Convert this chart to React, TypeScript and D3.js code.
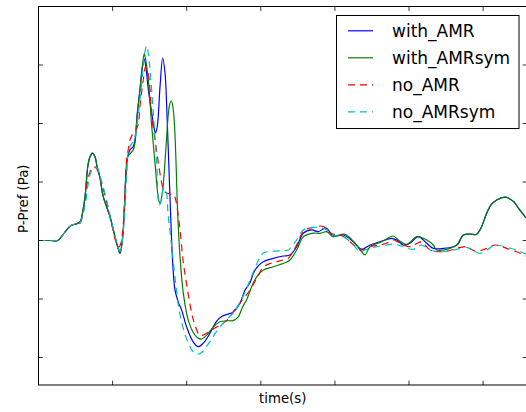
import React from 'react';
import * as d3 from 'd3';

// time axis (arbitrary units, tick spacing 1) and P-Pref values (tick spacing 1)
const xTicks = [0, 1, 2, 3, 4, 5, 6];
const yTicks = [-2, -1, 0, 1, 2, 3, 4];

const tBlue = [0,0.155,0.259,0.317,0.381,0.439,0.506,0.560,0.601,0.628,0.668,0.695,0.726,0.762,0.789,0.830,0.874,0.965,1.032,1.073,1.100,1.136,1.158,1.181,1.204,1.235,1.279,1.302,1.333,1.369,1.401,1.428,1.450,1.482,1.528,1.559,1.579,1.603,1.640,1.676,1.707,1.738,1.761,1.784,1.811,1.842,1.887,1.932,2.000,2.089,2.156,2.224,2.314,2.405,2.476,2.557,2.625,2.719,2.787,2.854,2.899,2.962,3.034,3.169,3.304,3.394,3.484,3.573,3.687,3.776,3.853,3.889,3.978,4.113,4.248,4.361,4.474,4.608,4.766,4.834,4.923,5.013,5.125,5.239,5.328,5.463,5.598,5.661,5.733,5.823,5.913,5.971,6.048,6.106,6.183,6.295,6.349,6.417,6.484,6.579];
const pBlue = [0,0,0,0.077,0.180,0.257,0.283,0.317,0.522,0.745,1.293,1.430,1.493,1.430,1.276,1.070,0.750,0.408,0.065,-0.128,-0.219,0.065,0.522,1.156,1.435,1.550,1.606,1.721,2.178,2.577,2.954,3.099,2.954,2.577,2.183,1.926,1.841,1.949,2.634,3.120,2.868,2.012,1.207,0.402,-0.385,-0.848,-1.053,-1.190,-1.481,-1.738,-1.815,-1.755,-1.584,-1.378,-1.293,-1.259,-1.224,-1.070,-0.848,-0.723,-0.562,-0.437,-0.363,-0.305,-0.265,-0.248,-0.106,0.123,0.180,0.151,0.205,0.209,0.086,0.094,-0.021,-0.151,-0.077,-0.021,0.038,0.009,-0.077,-0.048,0.065,-0.048,-0.134,-0.134,-0.106,-0.060,0.094,0.111,0.106,0.214,0.466,0.608,0.693,0.740,0.719,0.659,0.539,0.385];

const tGreen = [0,0.155,0.259,0.317,0.381,0.439,0.506,0.560,0.601,0.628,0.668,0.695,0.726,0.762,0.789,0.830,0.874,0.965,1.032,1.073,1.100,1.136,1.158,1.181,1.204,1.235,1.279,1.302,1.333,1.369,1.401,1.428,1.450,1.482,1.528,1.572,1.617,1.640,1.676,1.721,1.765,1.792,1.815,1.835,1.856,1.878,1.910,1.954,2.021,2.112,2.189,2.270,2.359,2.449,2.540,2.625,2.692,2.760,2.810,2.899,2.962,3.034,3.169,3.259,3.327,3.394,3.484,3.573,3.687,3.799,3.889,3.978,4.136,4.271,4.361,4.406,4.474,4.632,4.788,4.856,4.969,5.104,5.239,5.328,5.374,5.463,5.553,5.644,5.733,5.823,5.913,5.971,6.048,6.106,6.183,6.295,6.349,6.417,6.484,6.579];
const pGreen = [0,0,0,0.077,0.180,0.257,0.283,0.317,0.522,0.745,1.293,1.430,1.493,1.430,1.276,1.070,0.750,0.408,0.065,-0.128,-0.219,0.065,0.522,1.156,1.435,1.481,1.550,1.669,2.149,2.577,2.976,3.194,3.057,2.748,1.949,1.327,0.728,0.634,0.865,1.606,2.291,2.389,2.269,1.978,1.327,0.471,-0.283,-0.899,-1.361,-1.618,-1.687,-1.618,-1.476,-1.390,-1.370,-1.370,-1.310,-1.122,-1.007,-0.723,-0.591,-0.505,-0.449,-0.411,-0.380,-0.334,-0.163,0.065,0.123,0.123,0.151,0.065,0.106,-0.048,-0.192,-0.248,-0.106,-0.021,0.077,0.009,-0.065,0.065,0.009,-0.077,-0.163,-0.163,-0.134,-0.077,0.094,0.111,0.106,0.214,0.466,0.608,0.693,0.740,0.719,0.659,0.539,0.385];

const tRed = [0,0.155,0.259,0.317,0.381,0.439,0.506,0.560,0.601,0.628,0.655,0.695,0.740,0.776,0.830,0.884,0.938,0.992,1.046,1.086,1.113,1.140,1.167,1.190,1.215,1.235,1.279,1.316,1.347,1.369,1.414,1.447,1.482,1.505,1.528,1.572,1.617,1.662,1.693,1.730,1.774,1.819,1.842,1.865,1.910,1.950,1.990,2.067,2.112,2.180,2.247,2.355,2.449,2.530,2.625,2.719,2.854,2.908,2.962,3.034,3.124,3.215,3.300,3.371,3.421,3.484,3.536,3.596,3.664,3.731,3.799,3.843,3.893,3.934,4.001,4.069,4.136,4.203,4.271,4.338,4.406,4.474,4.608,4.703,4.788,4.851,4.923,5.036,5.094,5.171,5.229,5.283,5.364,5.463,5.553,5.644,5.779,5.837,5.913,5.985,6.048,6.160,6.228,6.318,6.453,6.579];
const pRed = [0,0,0,0.077,0.180,0.257,0.283,0.300,0.471,0.642,0.950,1.173,1.259,1.241,1.070,0.830,0.557,0.248,-0.026,-0.111,-0.043,0.214,0.779,1.378,1.584,1.721,1.836,1.892,1.995,2.291,2.748,2.971,2.834,2.577,2.120,1.721,1.327,0.985,0.848,0.813,0.796,0.788,0.745,0.608,0.180,-0.334,-0.676,-1.241,-1.447,-1.627,-1.601,-1.515,-1.447,-1.378,-1.224,-1.070,-0.848,-0.728,-0.608,-0.454,-0.394,-0.363,-0.334,-0.305,-0.214,-0.077,0.077,0.180,0.214,0.226,0.248,0.240,0.188,0.134,0.103,0.094,0.051,-0.021,-0.094,-0.163,-0.154,-0.106,-0.077,-0.043,0.009,-0.026,-0.077,-0.106,-0.060,-0.021,-0.094,-0.163,-0.188,-0.192,-0.171,-0.134,-0.106,-0.146,-0.192,-0.163,-0.134,-0.077,-0.094,-0.134,-0.192,-0.265];

const tCyan = [0,0.155,0.259,0.317,0.381,0.439,0.506,0.560,0.601,0.641,0.668,0.708,0.749,0.789,0.830,0.884,0.938,0.992,1.046,1.086,1.113,1.140,1.167,1.194,1.215,1.248,1.289,1.329,1.369,1.403,1.437,1.460,1.484,1.505,1.549,1.595,1.630,1.662,1.687,1.714,1.752,1.798,1.842,1.887,1.932,2.000,2.089,2.156,2.220,2.270,2.328,2.405,2.517,2.629,2.719,2.787,2.854,2.922,2.976,3.034,3.124,3.215,3.300,3.371,3.421,3.484,3.529,3.573,3.637,3.708,3.772,3.843,3.907,3.978,4.042,4.113,4.177,4.248,4.311,4.352,4.406,4.474,4.608,4.703,4.788,4.851,4.923,4.986,5.058,5.121,5.171,5.229,5.283,5.364,5.463,5.553,5.644,5.779,5.864,5.958,6.053,6.160,6.228,6.318,6.453,6.579];
const pCyan = [0,0,0,0.077,0.180,0.257,0.283,0.300,0.454,0.693,0.950,1.173,1.259,1.241,1.104,0.865,0.591,0.283,0.009,-0.163,-0.146,0.094,0.608,1.207,1.550,1.635,1.721,1.978,2.406,2.834,3.228,3.331,3.177,2.920,2.183,1.327,0.608,0.693,0.899,0.882,0.402,-0.111,-0.625,-1.104,-1.396,-1.687,-1.901,-1.943,-1.892,-1.806,-1.704,-1.550,-1.378,-1.236,-1.053,-0.882,-0.676,-0.471,-0.317,-0.214,-0.188,-0.180,-0.171,-0.163,-0.094,0.009,0.111,0.180,0.214,0.226,0.223,0.209,0.163,0.094,0.077,0.065,0.009,-0.077,-0.163,-0.192,-0.163,-0.134,-0.094,-0.077,-0.060,-0.077,-0.106,-0.137,-0.151,-0.103,-0.077,-0.120,-0.163,-0.188,-0.192,-0.171,-0.151,-0.116,-0.171,-0.219,-0.163,-0.077,-0.086,-0.116,-0.163,-0.231];

const seriesNames = ['with_AMR', 'with_AMRsym', 'no_AMR', 'no_AMRsym'];
const seriesColors = ['#0000ff', '#008000', '#ff0000', '#00bfbf'];
const seriesDash = [null, null, '7,5', '7,5'];
const seriesT = [tBlue, tGreen, tRed, tCyan];
const seriesP = [pBlue, pGreen, pRed, pCyan];

export default function App() {
  const W = 526, H = 412;
  const x = d3.scaleLinear().domain([0, 6.592]).range([38.5, 527]);
  const y = d3.scaleLinear().domain([-2.47, 4]).range([385, 6.5]);
  const [x0, x1] = x.range();
  const [yb, yt] = y.range();
  const line = d3.line<[number, number]>()
    .x(d => x(d[0]))
    .y(d => y(d[1]))
    .curve(d3.curveCatmullRom.alpha(0.5));

  const series = seriesNames.map((name, i) => {
    const n = Math.min(seriesT[i].length, seriesP[i].length);
    const pts: [number, number][] = d3.range(n).map(k => [seriesT[i][k], seriesP[i][k]]);
    return { name, color: seriesColors[i], dash: seriesDash[i], d: line(pts) || '' };
  });

  const font = '"DejaVu Sans", sans-serif';
  const tickLen = 4.4;

  return (
    <svg width={W} height={H} style={{ position: 'absolute', left: 0, top: 0, background: '#fff' }}>
      <rect x={0} y={0} width={W} height={H} fill="#fff" />
      <defs>
        <clipPath id="plotclip">
          <rect x={x0} y={yt} width={x1 - x0} height={yb - yt} />
        </clipPath>
      </defs>
      <g clipPath="url(#plotclip)">
        {series.map(s => (
          <path key={s.name} d={s.d} fill="none" stroke={s.color} strokeWidth={1.2}
            strokeDasharray={s.dash || undefined} strokeLinejoin="round" />
        ))}
      </g>
      {/* ticks */}
      <g stroke="#000" strokeWidth={0.8}>
        {xTicks.map(t => (
          <g key={'xt' + t}>
            <line x1={x(t)} x2={x(t)} y1={yb} y2={yb - tickLen} />
            <line x1={x(t)} x2={x(t)} y1={yt} y2={yt + tickLen} />
          </g>
        ))}
        {yTicks.map(t => (
          <g key={'yt' + t}>
            <line x1={x0} x2={x0 + tickLen} y1={y(t)} y2={y(t)} />
            <line x1={x1} x2={x1 - tickLen} y1={y(t)} y2={y(t)} />
          </g>
        ))}
      </g>
      {/* frame */}
      <rect x={x0} y={yt} width={x1 - x0} height={yb - yt} fill="none" stroke="#000" strokeWidth={1} />
      {/* axis labels */}
      <text x={(x0 + x1) / 2} y={403} textAnchor="middle" fontFamily={font} fontSize={13.3} fill="#000">time(s)</text>
      <text transform={`translate(27.5,${(yt + yb) / 2 + 3}) rotate(-90)`} textAnchor="middle" fontFamily={font} fontSize={13.3} fill="#000">P-Pref (Pa)</text>
      {/* legend */}
      <g>
        <rect x={336.5} y={15.5} width={182.5} height={113} fill="#fff" stroke="#000" strokeWidth={1} />
        {series.map((s, i) => {
          const by = 36.8 + i * 27;
          const ly = by - 6;
          return (
            <g key={'lg' + s.name}>
              <line x1={348} x2={373} y1={ly} y2={ly} stroke={s.color} strokeWidth={1.2}
                strokeDasharray={s.dash || undefined} />
              <text x={392} y={by} fontFamily={font} fontSize={17} fill="#000">{s.name}</text>
            </g>
          );
        })}
      </g>
    </svg>
  );
}
